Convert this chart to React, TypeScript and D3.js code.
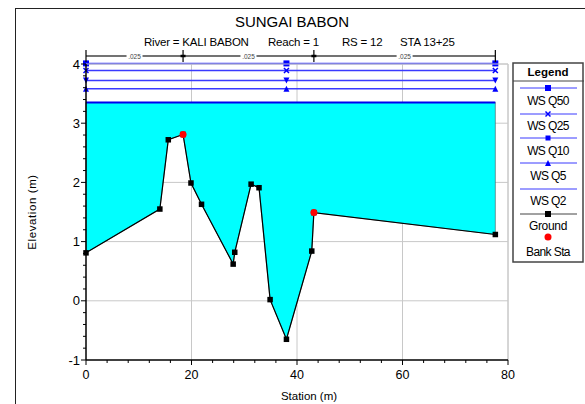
import React from "react";
import * as d3 from "d3";

const groundSta = [0, 14.0, 15.6, 18.4, 19.9, 21.9, 27.9, 28.2, 31.3, 32.8, 34.9, 38.0, 42.8, 43.2, 77.6];
const groundElev = [0.81, 1.55, 2.72, 2.81, 1.99, 1.63, 0.62, 0.82, 1.97, 1.91, 0.02, -0.65, 0.84, 1.49, 1.12];
const bankSta = [18.4, 43.2];
const bankElev = [2.81, 1.49];
const wsNames = ["WS Q50", "WS Q25", "WS Q10", "WS Q5", "WS Q2"];
const wsElev = [4.01, 3.89, 3.72, 3.58, 3.35];
const wsMarkerSta = [0, 38.0, 77.6];
const manningBreaks = [0, 18.4, 43.2, 77.6];
const manningN = [".025", ".025", ".025"];
const xTicks = [0, 20, 40, 60, 80];
const yTicks = [-1, 0, 1, 2, 3, 4];
const subtitleParts = ["River = KALI BABON", "Reach = 1", "RS = 12", "STA 13+25"];

const FONT = "Liberation Sans, Arial, sans-serif";
const BLUE = "#3a3aff";

function Marker({ kind, x, y, color }: { kind: string; x: number; y: number; color: string }) {
  if (kind === "square") return <rect x={x - 3} y={y - 3} width={6} height={6} fill={color} />;
  if (kind === "smallsquare") return <rect x={x - 2.5} y={y - 2.5} width={5} height={5} fill={color} />;
  if (kind === "x")
    return (
      <g stroke={color} strokeWidth={1.5}>
        <line x1={x - 2.5} y1={y - 2.5} x2={x + 2.5} y2={y + 2.5} />
        <line x1={x - 2.5} y1={y + 2.5} x2={x + 2.5} y2={y - 2.5} />
      </g>
    );
  if (kind === "tridown") return <path d={`M${x - 3},${y - 3}L${x + 3},${y - 3}L${x},${y + 3}Z`} fill={color} />;
  if (kind === "triup") return <path d={`M${x - 3},${y + 3}L${x + 3},${y + 3}L${x},${y - 3}Z`} fill={color} />;
  return null;
}

const wsMarkers = ["square", "x", "tridown", "triup", "none"];
const legendMarkers = ["square", "x", "smallsquare", "triup", "none"];

export default function App() {
  const x = d3.scaleLinear().domain([0, 80]).range([86, 508]);
  const y = d3.scaleLinear().domain([-1, 4]).range([360, 64]);
  const xMinor = d3.range(0, 80.01, 4);
  const yMinor = d3.range(-1, 4.001, 0.2);

  const ground = groundSta.map((s, i) => [s, groundElev[i]] as [number, number]);
  const line = d3.line<[number, number]>().x((d) => x(d[0])).y((d) => y(d[1]));
  const q2 = wsElev[4];
  const fillPts: [number, number][] = [[groundSta[0], q2], [groundSta[groundSta.length - 1], q2], ...ground.slice().reverse()];
  const area = line(fillPts) + "Z";

  const legendX0 = 520, legendX1 = 577, legendCx = 548;
  const legendLineY = [88, 114, 138, 163, 189];
  const legendLabelY = [105, 130, 155, 180, 205];
  const subX = [144, 268, 342, 400];

  return (
    <svg width={585} height={404} style={{ position: "absolute", left: 0, top: 0, background: "#fff" }} fontFamily={FONT}>
      <rect x={15.5} y={8.5} width={600} height={420} fill="none" stroke="#222" strokeWidth={1} />
      <text x={292} y={27} textAnchor="middle" fontSize={15}>SUNGAI BABON</text>
      {subtitleParts.map((p, i) => (
        <text key={"st" + i} x={subX[i]} y={46} fontSize={11.5} letterSpacing={-0.2}>{p}</text>
      ))}

      {/* grid */}
      <g stroke="#c8c8c8" strokeWidth={1}>
        {xTicks.slice(1).map((t) => (
          <line key={"gx" + t} x1={x(t)} x2={x(t)} y1={y(4)} y2={y(-1)} />
        ))}
        {yTicks.slice(1).map((t) => (
          <line key={"gy" + t} x1={x(0)} x2={x(80)} y1={y(t)} y2={y(t)} />
        ))}
      </g>

      {/* fill */}
      <path d={area} fill="#00ffff" stroke="#555" strokeWidth={0.6} />
      <line x1={x(groundSta[0])} x2={x(groundSta[groundSta.length - 1])} y1={y(q2)} y2={y(q2)} stroke="#0000ee" strokeWidth={2} />

      {/* WS lines */}
      {wsElev.slice(0, 4).map((e, i) => (
        <g key={"ws" + i}>
          <line x1={x(groundSta[0])} x2={x(groundSta[groundSta.length - 1])} y1={y(e)} y2={y(e)} stroke={BLUE} strokeWidth={1.5} />
          {wsMarkerSta.map((s) => (
            <Marker key={s} kind={wsMarkers[i]} x={x(s)} y={y(e)} color="#0000ff" />
          ))}
        </g>
      ))}

      {/* ground */}
      <path d={line(ground) || ""} fill="none" stroke="#000" strokeWidth={1.2} />
      {ground.map((d, i) => (
        <rect key={"g" + i} x={x(d[0]) - 2.75} y={y(d[1]) - 2.75} width={5.5} height={5.5} fill="#000" />
      ))}
      {bankSta.map((s, i) => (
        <circle key={"b" + i} cx={x(s)} cy={y(bankElev[i])} r={3.5} fill="#ff0000" />
      ))}

      {/* manning bar */}
      <line x1={x(manningBreaks[0])} x2={x(manningBreaks[3])} y1={56} y2={56} stroke="#444" strokeWidth={1.5} />
      {manningBreaks.map((s, i) => (
        <g key={"mb" + i} stroke="#000">
          <line x1={x(s)} x2={x(s)} y1={50} y2={62} strokeWidth={1.2} />
          {i > 0 && i < 3 && <line x1={x(s) - 2.5} x2={x(s) + 2.5} y1={56} y2={56} strokeWidth={2.5} />}
        </g>
      ))}
      {manningN.map((n, i) => {
        const cx = x((manningBreaks[i] + manningBreaks[i + 1]) / 2);
        return (
          <g key={"mn" + i}>
            <rect x={cx - 8} y={52} width={16} height={8} fill="#fff" />
            <text x={cx} y={58.5} textAnchor="middle" fontSize={6.5} fill="#444">{n}</text>
          </g>
        );
      })}

      {/* plot frame: top/right gray, axes black */}
      <line x1={x(0)} x2={x(80)} y1={y(4)} y2={y(4)} stroke="#c8c8c8" />
      <line x1={x(80)} x2={x(80)} y1={y(4)} y2={y(-1)} stroke="#c8c8c8" />
      <line x1={x(0)} x2={x(0)} y1={y(4)} y2={y(-1)} stroke="#000" strokeWidth={1.5} />
      <line x1={x(0)} x2={x(80)} y1={y(-1)} y2={y(-1)} stroke="#000" strokeWidth={1.5} />
      {yMinor.map((t, i) => (
        <line key={"ym" + i} x1={x(0) - (i % 5 === 0 ? 5 : 3)} x2={x(0)} y1={y(t)} y2={y(t)} stroke="#000" />
      ))}
      {xMinor.map((t, i) => (
        <line key={"xm" + i} x1={x(t)} x2={x(t)} y1={y(-1)} y2={y(-1) + (i % 5 === 0 ? 5 : 3)} stroke="#000" />
      ))}
      {yTicks.map((t) => (
        <text key={"yl" + t} x={x(0) - 6} y={y(t) + 4.5} textAnchor="end" fontSize={13}>{t}</text>
      ))}
      {xTicks.map((t) => (
        <text key={"xl" + t} x={x(t)} y={y(-1) + 19} textAnchor="middle" fontSize={12.5}>{t}</text>
      ))}
      <text x={309} y={400} textAnchor="middle" fontSize={11.5}>Station (m)</text>
      <text transform={`translate(36,212) rotate(-90)`} textAnchor="middle" fontSize={11.5} letterSpacing={0.6}>Elevation (m)</text>

      {/* legend */}
      <rect x={513} y={63} width={70} height={199} fill="#fff" stroke="#444" strokeWidth={1.5} />
      <line x1={513} x2={584} y1={81} y2={81} stroke="#444" strokeWidth={1} />
      <text x={548} y={76} textAnchor="middle" fontSize={11.5} fontWeight="bold">Legend</text>
      {wsNames.map((n, i) => (
        <g key={"lg" + i}>
          <line x1={legendX0} x2={legendX1} y1={legendLineY[i]} y2={legendLineY[i]} stroke={BLUE} strokeWidth={1} />
          <Marker kind={legendMarkers[i]} x={legendCx} y={legendLineY[i]} color="#0000ff" />
          <text x={legendCx} y={legendLabelY[i]} textAnchor="middle" fontSize={12} letterSpacing={-0.6}>{n}</text>
        </g>
      ))}
      <line x1={legendX0} x2={legendX1} y1={214} y2={214} stroke="#444" strokeWidth={1} />
      <rect x={legendCx - 3} y={211} width={6} height={6} fill="#000" />
      <text x={legendCx} y={230} textAnchor="middle" fontSize={12} letterSpacing={-0.3}>Ground</text>
      <circle cx={legendCx} cy={237} r={3.5} fill="#ff0000" />
      <text x={legendCx} y={256} textAnchor="middle" fontSize={12} letterSpacing={-0.6}>Bank Sta</text>
    </svg>
  );
}
